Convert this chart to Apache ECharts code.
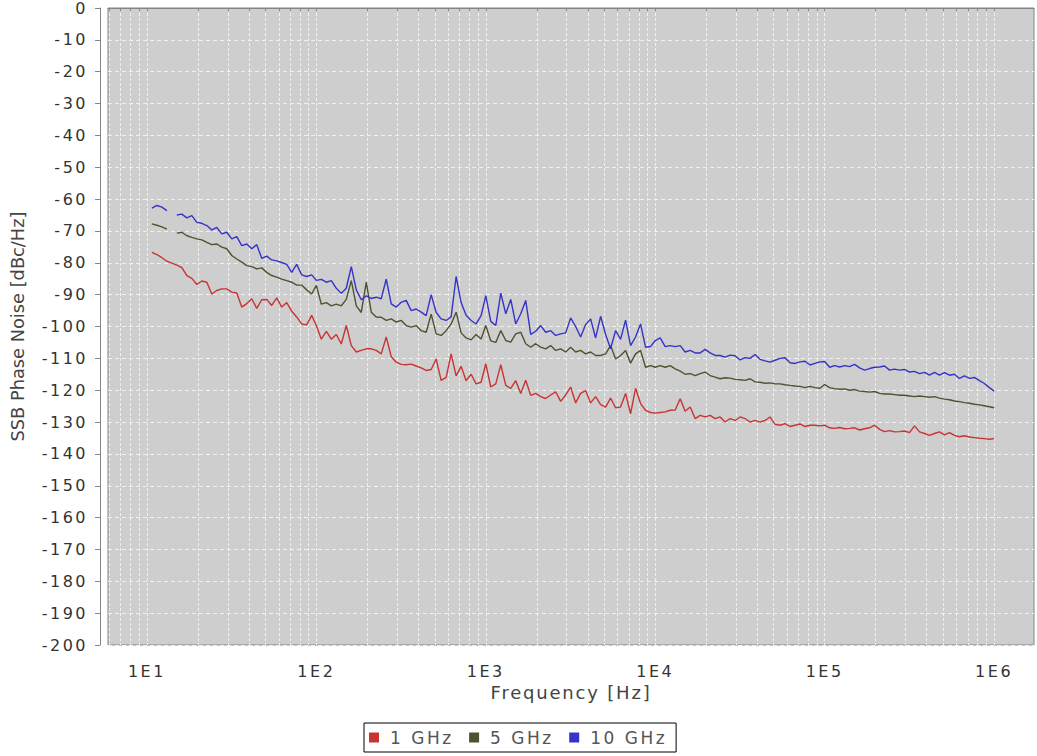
<!DOCTYPE html>
<html>
<head>
<meta charset="utf-8">
<script src="https://cdn.jsdelivr.net/npm/echarts@6/dist/echarts.min.js"></script>
<style>
html, body { margin: 0; padding: 0; background: #ffffff; }
#chart { width: 1037px; height: 756px; }
#chart text[style*="16px"] { letter-spacing: 2.5px; }
#chart text[style*="18px"] { letter-spacing: 1.8px; }
#chart text[style*="17px"] { letter-spacing: 2.5px; }
</style>
</head>
<body>
<div id="chart"></div>
<script>
// ---- data ----
const freqHz = [
  10.70, 11.45, 12.26, 13.12, 14.04, 15.02, 16.08, 17.21, 18.41, 19.71, 21.09, 22.57, 24.16, 25.85, 27.67, 29.61, 31.69, 33.91, 36.29, 38.84, 41.57, 44.49, 47.61, 50.95, 54.53, 58.36, 62.45, 66.84, 71.53, 76.55, 81.92, 87.67, 93.83,
  100.0, 107.0, 114.5, 122.6, 131.2, 140.4, 150.2, 160.8, 172.1, 184.1, 197.1, 210.9, 225.7, 241.6, 258.5, 276.7, 296.1, 316.9, 339.1, 362.9, 388.4, 415.7, 444.9, 476.1, 509.5, 545.3, 583.6, 624.5, 668.4, 715.3, 765.5, 819.2, 876.7, 938.3,
  1000, 1070, 1145, 1226, 1312, 1404, 1502, 1608, 1721, 1841, 1971, 2109, 2257, 2416, 2585, 2767, 2961, 3169, 3391, 3629, 3884, 4157, 4449, 4761, 5095, 5453, 5836, 6245, 6684, 7153, 7655, 8192, 8767, 9383,
  10000, 10700, 11450, 12260, 13120, 14040, 15020, 16080, 17210, 18410, 19710, 21090, 22570, 24160, 25850, 27670, 29610, 31690, 33910, 36290, 38840, 41570, 44490, 47610, 50950, 54530, 58360, 62450, 66840, 71530, 76550, 81920, 87670, 93830,
  100000, 107000, 114500, 122600, 131200, 140400, 150200, 160800, 172100, 184100, 197100, 210900, 225700, 241600, 258500, 276700, 296100, 316900, 339100, 362900, 388400, 415700, 444900, 476100, 509500, 545300, 583600, 624500, 668400, 715300, 765500, 819200, 876700, 938300,
  1000000
];

const noise1GHz = [
  -76.7, -77.4, -78.4, -79.5, -80.1, -80.7, -81.5, -84.0, -84.9, -86.8,
  -85.7, -86.1, -89.8, -88.7, -88.2, -88.2, -89.2, -89.5, -93.9, -92.8,
  -91.3, -94.3, -91.6, -91.5, -93.4, -91.0, -93.9, -92.5, -95.2, -97.0,
  -99.2, -99.5, -96.5, -99.7, -104.0, -101.5, -104.0, -102.5, -105.5, -99.7,
  -106.0, -108.0, -107.5, -107.0, -107.0, -107.5, -108.6, -103.3, -109.5, -111.2,
  -111.9, -112.0, -111.8, -112.4, -113.0, -113.8, -113.5, -110.2, -116.9, -116.0,
  -108.6, -115.5, -112.5, -117.0, -115.0, -118.0, -117.5, -111.7, -119.0, -118.0,
  -112.0, -118.5, -119.4, -117.0, -121.0, -116.9, -121.6, -121.0, -122.0, -122.6,
  -121.5, -120.5, -123.5, -121.5, -119.0, -124.0, -121.0, -120.1, -124.0, -122.0,
  -124.5, -125.3, -122.5, -125.5, -125.3, -121.0, -127.4, -119.4, -124.2, -126.3,
  -127.0, -127.2, -127.0, -126.8, -126.3, -126.2, -122.7, -126.6, -125.3, -128.9,
  -127.9, -128.4, -127.9, -128.9, -128.4, -130.0, -128.9, -129.5, -128.4, -128.9,
  -130.0, -129.5, -130.0, -129.5, -128.4, -130.7, -131.0, -130.5, -131.4, -131.0,
  -130.6, -131.4, -131.0, -131.0, -131.2, -131.0, -131.8, -132.0, -131.7, -132.1,
  -132.0, -131.8, -132.5, -132.1, -131.8, -131.0, -132.3, -133.0, -132.7, -133.1,
  -133.0, -132.8, -133.3, -131.2, -133.1, -133.6, -134.2, -133.6, -133.1, -134.0,
  -133.3, -134.2, -134.6, -134.3, -134.7, -134.9, -135.1, -135.2, -135.4, -135.2
];

const noise5GHz = [
  -67.8, -68.2, -68.7, -69.4, null, -70.7, -70.4, -71.5, -72.0, -72.5,
  -72.8, -73.6, -74.3, -74.1, -75.1, -75.6, -77.7, -78.8, -79.8, -80.9,
  -81.2, -81.9, -81.6, -83.0, -84.0, -84.5, -85.1, -85.6, -86.1, -87.0,
  -87.0, -88.5, -89.8, -87.1, -93.0, -92.5, -93.5, -93.0, -93.5, -91.5,
  -85.6, -93.5, -95.6, -86.1, -95.5, -97.0, -97.1, -98.1, -97.6, -98.6,
  -98.1, -99.7, -100.2, -99.7, -101.3, -101.8, -96.1, -102.3, -102.8, -101.3,
  -99.2, -95.5, -102.0, -103.6, -104.2, -102.5, -103.9, -99.7, -104.5, -105.0,
  -101.3, -104.4, -104.9, -102.3, -101.8, -105.4, -106.5, -105.4, -106.5, -107.0,
  -106.0, -107.5, -107.0, -108.0, -106.5, -108.0, -107.5, -108.6, -108.0, -109.1,
  -109.1, -108.6, -106.0, -110.2, -109.1, -107.5, -111.5, -108.6, -107.5, -112.8,
  -112.3, -112.8, -112.3, -112.8, -112.3, -113.3, -114.0, -115.0, -114.8, -115.4,
  -114.8, -114.3, -115.4, -115.9, -116.4, -116.1, -116.2, -116.6, -116.7, -116.9,
  -116.4, -117.4, -117.5, -117.8, -117.7, -118.0, -118.0, -118.3, -118.5, -118.7,
  -118.8, -119.2, -118.8, -119.2, -119.4, -118.2, -119.2, -119.5, -119.7, -119.6,
  -120.0, -119.8, -120.3, -120.4, -120.6, -120.4, -121.0, -121.2, -121.2, -121.4,
  -121.6, -121.6, -121.8, -122.0, -121.8, -122.0, -122.2, -122.0, -122.5, -122.8,
  -123.0, -123.4, -123.6, -123.9, -124.1, -124.4, -124.6, -124.9, -125.2, -125.5
];

const noise10GHz = [
  -62.8, -62.0, -62.5, -63.6, null, -65.0, -64.7, -65.9, -65.2, -67.3,
  -67.6, -68.3, -69.7, -68.9, -70.9, -70.4, -72.5, -71.8, -74.6, -74.1,
  -75.6, -74.3, -78.6, -77.9, -79.1, -79.4, -79.9, -80.5, -83.0, -80.5,
  -83.8, -84.3, -83.8, -85.5, -85.2, -86.1, -85.6, -88.0, -89.6, -88.0,
  -81.2, -88.5, -91.6, -90.4, -91.2, -90.8, -91.3, -85.1, -92.9, -93.9,
  -92.4, -91.8, -95.0, -94.5, -95.5, -96.6, -90.0, -95.6, -97.6, -98.1,
  -97.0, -84.3, -92.5, -96.5, -98.1, -99.2, -96.6, -90.3, -98.4, -99.7,
  -89.5, -96.0, -91.5, -99.2, -96.0, -91.8, -102.5, -101.5, -99.7, -101.8,
  -101.3, -102.8, -102.3, -102.0, -97.3, -100.0, -103.3, -99.4, -97.6, -103.6,
  -96.8, -102.5, -107.0, -101.3, -104.0, -98.0, -106.0, -103.3, -99.2, -106.5,
  -106.3, -104.4, -103.6, -106.3, -106.0, -106.3, -106.0, -108.0, -107.5, -108.3,
  -108.3, -107.2, -108.3, -109.1, -109.1, -109.6, -109.0, -109.2, -110.5, -109.8,
  -110.0, -108.8, -110.3, -110.8, -111.2, -110.6, -110.0, -109.8, -111.4, -111.6,
  -111.1, -110.9, -112.1, -111.6, -111.1, -111.0, -112.8, -112.3, -112.7, -112.3,
  -112.6, -111.9, -113.0, -113.7, -113.2, -112.8, -112.7, -112.4, -113.7, -113.4,
  -113.7, -113.5, -114.3, -114.1, -114.8, -114.4, -115.3, -114.4, -115.3, -114.5,
  -115.3, -115.0, -116.3, -115.5, -116.3, -116.0, -117.0, -117.9, -119.2, -120.3
];

const seriesNames = ['1 GHz', '5 GHz', '10 GHz'];
const seriesColors = ['#c83434', '#4f5230', '#3434c8'];

const xLabelValues = [10, 100, 1000, 10000, 100000, 1000000];
const xTickValues = [
  6, 7, 8, 9,
  10, 20, 30, 40, 50, 60, 70, 80, 90,
  100, 200, 300, 400, 500, 600, 700, 800, 900,
  1000, 2000, 3000, 4000, 5000, 6000, 7000, 8000, 9000,
  10000, 20000, 30000, 40000, 50000, 60000, 70000, 80000, 90000,
  100000, 200000, 300000, 400000, 500000, 600000, 700000, 800000, 900000,
  1000000
];
const xMin = 5.893;
const xMax = 1720000;
const yMin = -200;
const yMax = 0;
const yStep = 10;

// ---- chart ----
const FONT = 'DejaVu Sans';
const chart = echarts.init(document.getElementById('chart'), null, { renderer: 'svg' });

const seriesData = [noise1GHz, noise5GHz, noise10GHz];
const series = seriesNames.map((name, i) => ({
  name: name,
  type: 'line',
  data: freqHz.map((f, j) => [f, seriesData[i][j]]),
  showSymbol: false,
  symbol: 'none',
  connectNulls: false,
  lineStyle: { width: 1.4, color: seriesColors[i] },
  itemStyle: { color: seriesColors[i] },
  emphasis: { disabled: true },
  animation: false
}));

chart.setOption({
  animation: false,
  backgroundColor: '#ffffff',
  grid: {
    left: 106, right: 3, top: 7, bottom: 111,
    show: true,
    backgroundColor: '#cecece',
    borderColor: '#858585',
    borderWidth: 1
  },
  xAxis: {
    type: 'log',
    logBase: 10,
    min: xMin,
    max: xMax,
    offset: 7,
    name: 'Frequency [Hz]',
    nameLocation: 'middle',
    nameGap: 29,
    nameTextStyle: { fontFamily: FONT, fontSize: 18, color: '#444444' },
    axisLine: { show: true, lineStyle: { color: '#858585', width: 1 } },
    axisTick: { show: true, length: 3, customValues: xTickValues, lineStyle: { color: '#858585' } },
    minorTick: { show: false },
    axisLabel: {
      customValues: xLabelValues,
      margin: 11,
      fontFamily: FONT,
      fontSize: 16,
      color: '#333333',
      formatter: v => '1E' + Math.round(Math.log10(v))
    },
    splitLine: { show: true, lineStyle: { color: '#f0f0f0', width: 1, type: [3, 2] } }
  },
  yAxis: {
    type: 'value',
    min: yMin,
    max: yMax,
    interval: yStep,
    offset: 8,
    name: 'SSB Phase Noise [dBc/Hz]',
    nameLocation: 'middle',
    nameRotate: 90,
    nameGap: 74,
    nameTextStyle: { fontFamily: FONT, fontSize: 17.8, color: '#444444' },
    axisLine: { show: true, lineStyle: { color: '#858585', width: 1 } },
    axisTick: { show: true, length: 5, lineStyle: { color: '#858585' } },
    axisLabel: { margin: 12, fontFamily: FONT, fontSize: 16, color: '#333333' },
    splitLine: { show: true, lineStyle: { color: '#f0f0f0', width: 1, type: [4, 3] } }
  },
  legend: {
    left: 364,
    top: 723,
    orient: 'horizontal',
    padding: [6, 24, 6, 5],
    itemWidth: 10,
    itemHeight: 10,
    itemGap: 28,
    icon: 'rect',
    borderColor: '#000000',
    borderWidth: 1,
    selectedMode: false,
    textStyle: { fontFamily: FONT, fontSize: 17, color: '#555555', padding: [0, 0, 0, 6] },
    data: seriesNames
  },
  tooltip: { show: false },
  series: series
});
</script>
</body>
</html>
